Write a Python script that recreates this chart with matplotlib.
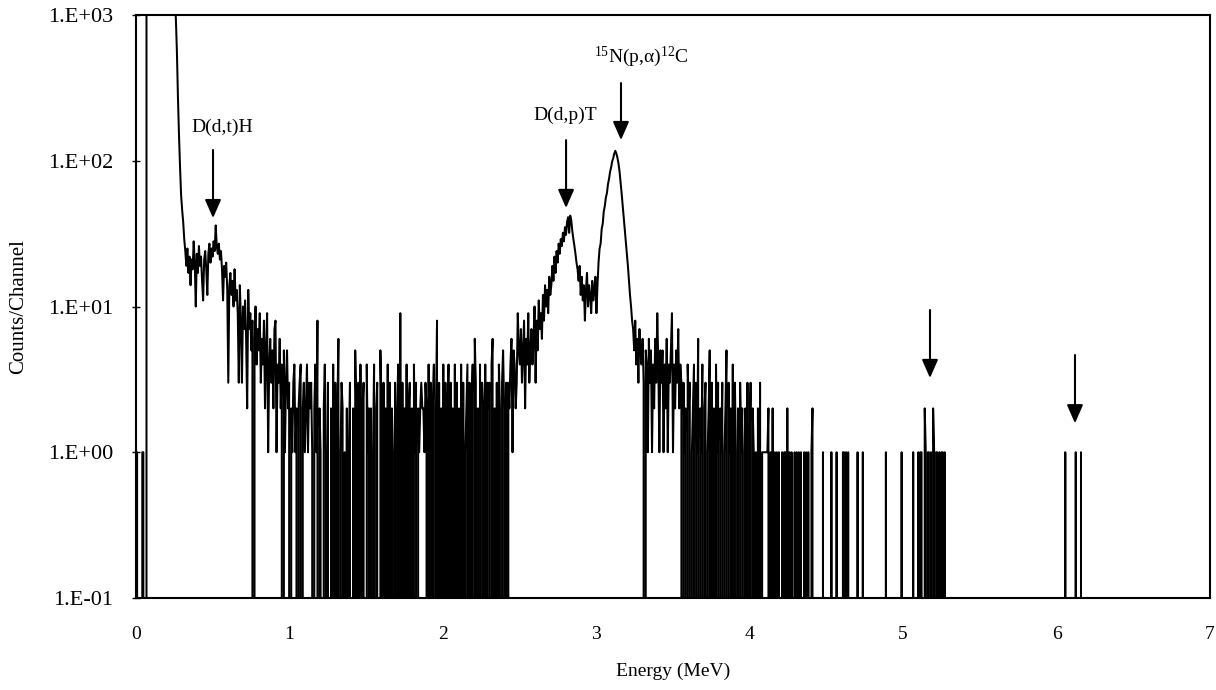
import numpy as np
import matplotlib.pyplot as plt
from matplotlib.ticker import FixedLocator, FuncFormatter, NullLocator

plt.rcParams['font.family'] = 'Liberation Serif'
plt.rcParams['mathtext.fontset'] = 'custom'
plt.rcParams['mathtext.rm'] = 'Liberation Serif'
plt.rcParams['mathtext.it'] = 'Liberation Serif:italic'

# 1024 channels spread over 0-7 MeV
n_channels = 1024
mev_per_channel = 7.0 / n_channels

# ch 0-44: noise, low-energy pile-up (off scale), steep fall
counts_start = [0, 1, 0, 0, 0, 0, 1, 1, 0, 0,
                1500, 3200, 5200, 6800, 7400, 7600, 7500, 7200, 6900, 6500,
                6100, 5700, 5300, 4900, 4500, 4200, 3900, 3600, 3300, 3000,
                2700, 2400, 2100, 1900, 1700, 1500, 1300, 1150,
                950, 560, 270, 150, 90, 58, 46]

# ch 45-145: D(d,t)H bump and decline
counts_dth = [38, 29, 24, 19, 25, 17, 22, 14, 21, 18,
              28, 20, 10, 23, 17, 26, 19, 22, 15, 11,
              21, 24, 18, 12, 23, 27, 20, 25, 22, 28,
              24, 36, 26, 23, 27, 21, 24, 18, 11, 19,
              16, 20, 13, 3, 14, 17, 12, 15, 10, 18,
              11, 13, 9, 3, 14, 8, 3, 10, 7, 11,
              6, 2, 13, 7, 9, 5, 8, 0, 6, 10,
              4, 7, 5, 9, 3, 6, 4, 8, 2, 5,
              9, 1, 4, 6, 3, 5, 2, 7, 8, 1,
              4, 3, 6, 2, 4, 0, 5, 1, 3, 5, 2]

# ch 146-365: flat background, one digit per channel
counts_flat = ("3021341202" "3402312413" "2310241802" "1002410300"
               "2040302601" "3201020130" "0205203040" "2300412020"
               "1402300520" "3020403021" "0302409030" "2040230204"
               "1302123221" "3204030240" "2803020403" "0240302040"
               "3020403012" "4030240630" "2040320403" "2304602030"
               "4203520303" "2461542395")

# ch 366-500: D(d,p)T and 15N(p,a)12C peaks
counts_peaks = [4, 7, 3, 5, 8, 2, 6, 4, 9, 3, 5, 7, 4,
                6, 10, 3, 8, 5, 11, 7, 9, 6, 12, 8, 14, 10, 13, 9, 16, 12,
                14, 19, 15, 22, 17, 24, 20, 27, 23, 29, 26, 32, 28, 35, 31, 38,
                41, 32, 42, 39, 33, 29, 26, 23, 20,
                18, 15, 19, 12, 16, 11, 14, 8, 13, 17, 10, 14, 12, 9, 15, 11, 13, 16, 9, 14,
                20, 25, 27, 34, 37, 45, 49, 56, 60, 69, 75, 84, 90, 99, 104, 112, 117,
                112, 105, 96, 85, 72, 60, 50, 41, 34, 28, 23, 19, 15, 12, 10, 8,
                7, 5, 8, 4, 6, 3, 7, 5, 4, 6, 3, 0, 5, 4, 1, 6, 3, 5, 1, 4, 2, 6, 3, 9, 4, 1, 5]

# ch 501-780: high-energy tail, one digit per channel
counts_tail = ("3514261435" "9142537243" "0312042301" "2403160214"
               "0230125030" "2041302130" "1250312040" "3102031201"
               "2030130210" "1020301111" "1120102010" "1010010110"
               "2010100101" "0101001010" "1001200000" "0000100000"
               "0010000100" "0001101010" "0000000100" "0010000000"
               "0000000000" "0000100000" "0000000001" "0000000000"
               "1000010110" "0210110102" "1011010110" "1000000000")

# isolated counts above ch 780
tail_hits = {886: 1, 896: 1, 901: 1}

counts = np.zeros(n_channels)
dense = (counts_start + counts_dth + [int(c) for c in counts_flat]
         + counts_peaks + [int(c) for c in counts_tail])
counts[:len(dense)] = dense
for ch, c in tail_hits.items():
    counts[ch] = c
energy = np.arange(n_channels) * mev_per_channel

fig = plt.figure(figsize=(12.16, 6.9), dpi=100)
ax = fig.add_axes([136 / 1216, 1 - 598 / 690, 1074 / 1216, 583 / 690])

ax.plot(energy, counts, color='black', lw=1.45)
ax.set_yscale('log', nonpositive='clip')
ax.set_ylim(0.1, 1000)
ax.set_xlim(0, 7)

ax.yaxis.set_major_locator(FixedLocator([0.1, 1, 10, 100, 1000]))
ax.yaxis.set_minor_locator(NullLocator())
ax.yaxis.set_major_formatter(FuncFormatter(lambda v, p: "1.E%+03d" % round(np.log10(v))))
ax.set_xticks(range(8))

ax.tick_params(axis='y', direction='inout', length=6, width=1, pad=13.5, labelsize=16)
ax.tick_params(axis='x', length=0, pad=20, labelsize=14)
for s in ax.spines.values():
    s.set_linewidth(1.5)

ax.set_xlabel("Energy (MeV)", fontsize=14, labelpad=14)
ax.set_ylabel("Counts/Channel", fontsize=15)
ax.yaxis.set_label_coords(-0.100, 0.5)

arrow = dict(arrowstyle='-|>,head_length=0.8,head_width=0.35', lw=1.5,
             color='black', mutation_scale=14, shrinkA=0, shrinkB=0)
ax.annotate("", xy=(0.502, 40.4), xytext=(0.502, 118.6), arrowprops=arrow)
ax.annotate("", xy=(2.803, 47.4), xytext=(2.803, 138.6), arrowprops=arrow)
ax.annotate("", xy=(3.161, 138.6), xytext=(3.161, 341), arrowprops=arrow)
ax.annotate("", xy=(5.175, 3.23), xytext=(5.175, 9.46), arrowprops=arrow)
ax.annotate("", xy=(6.12, 1.58), xytext=(6.12, 4.65), arrowprops=arrow)

ax.text(0.564, 170, "D(d,t)H", fontsize=14, ha='center', va='center')
ax.text(2.80, 206, "D(d,p)T", fontsize=14, ha='center', va='center')
ax.text(3.29, 515, r"$^{15}$N(p,α)$^{12}$C", fontsize=14, ha='center', va='center')

fig.savefig("out.png", dpi=100)
